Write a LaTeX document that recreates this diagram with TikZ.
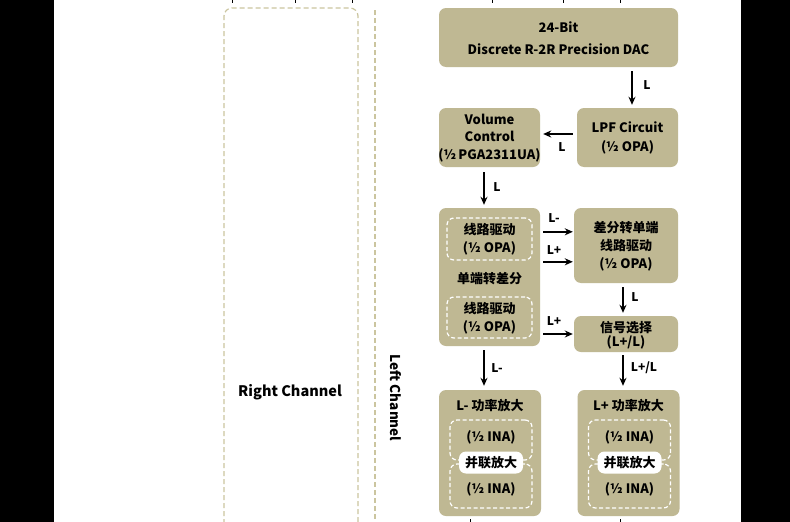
\documentclass[tikz,border=0pt]{standalone}
\usepackage{fontspec}
\setmainfont{Noto Sans CJK SC}
\usetikzlibrary{arrows.meta}
\definecolor{boxc}{HTML}{BFB893}
\definecolor{dashc}{HTML}{CBC59F}
\tikzset{
  box/.style={fill=boxc, rounded corners=7pt, inner sep=0pt, align=center},
  txt/.style={inner sep=0pt, align=center, font=\fontsize{13}{18}\selectfont\bfseries},
  lbl/.style={inner sep=0pt, font=\fontsize{12}{14}\selectfont\bfseries},
  wdash/.style={draw=white, line width=1.2pt, dash pattern=on 4pt off 2.5pt, rounded corners=7pt, inner sep=0pt},
  pill/.style={fill=white, rounded corners=7pt, inner sep=0pt, minimum width=64pt, minimum height=22pt, font=\fontsize{13}{14}\selectfont\bfseries},
  arr/.style={-{Stealth[length=8pt,width=7pt]}, line width=1.4pt, black},
  chdash/.style={draw=dashc, line width=1.2pt, dash pattern=on 5pt off 3pt},
  tick/.style={line width=1pt, black}
}
\begin{document}
\begin{tikzpicture}[x=1pt,y=-1pt]
\useasboundingbox (0,0) rectangle (790,522);
\fill[white] (0,0) rectangle (790,522);
\fill[black] (0,0) rectangle (54,522);
\fill[black] (741,0) rectangle (790,522);

% channel frames
\draw[chdash, rounded corners=8pt] (224,540) -- (224,8) -- (358,8) -- (358,540);
\coordinate (lct) at (375,10);
\coordinate (lcb) at (375,522);
\draw[chdash] (lct) -- (lcb);
\node[txt, font=\fontsize{14.5}{16}\selectfont\bfseries] (rch) at (290,392) {Right Channel};
\node[txt, font=\fontsize{13.5}{16}\selectfont\bfseries, rotate=-90] (lch) at (396,398) {Left Channel};

% top / bottom ticks (cut-off connectors)
\foreach \x [count=\i] in {232,295,352,492,563,620}{
  \coordinate (t\i a) at (\x,0);
  \coordinate (t\i b) at (\x,3);
  \draw[tick] (t\i a) -- (t\i b);
}
\foreach \x [count=\i] in {470,620}{
  \coordinate (b\i a) at (\x,519);
  \coordinate (b\i b) at (\x,522);
  \draw[tick] (b\i a) -- (b\i b);
}

% boxes
\node[box, minimum width=239pt, minimum height=59pt] (dac) at (558.5,37.5) {};
\node[txt, font=\fontsize{13}{21.5}\selectfont\bfseries] (dact) at (558.5,38) {24-Bit\\Discrete R-2R Precision DAC};

\node[box, minimum width=101pt, minimum height=59pt] (lpf) at (627.5,137.5) {};
\node[txt, font=\fontsize{13}{19}\selectfont\bfseries] (lpft) at (627.5,137.5) {LPF Circuit\\(½ OPA)};

\node[box, minimum width=101pt, minimum height=59pt] (vol) at (489.5,137.5) {};
\node[txt, font=\fontsize{13}{17.5}\selectfont\bfseries] (volt) at (489.5,138) {Volume\\Control\\(½\,PGA2311UA)};

\node[box, minimum width=101pt, minimum height=138pt] (sd) at (489.5,277) {};
\node[wdash, draw, minimum width=85pt, minimum height=42pt] (sd1) at (489.5,239) {};
\node[txt] (sd1t) at (489.5,239) {线路驱动\\(½ OPA)};
\node[txt] (sdt) at (489.5,279) {单端转差分};
\node[wdash, draw, minimum width=85pt, minimum height=41pt] (sd2) at (489.5,317.5) {};
\node[txt] (sd2t) at (489.5,318) {线路驱动\\(½ OPA)};

\node[box, minimum width=104pt, minimum height=75pt] (ds) at (626,245.5) {};
\node[txt] (dst) at (626,246) {差分转单端\\线路驱动\\(½ OPA)};

\node[box, minimum width=104pt, minimum height=36pt] (sel) at (626,334) {};
\node[txt, font=\fontsize{13}{14}\selectfont\bfseries] (selt) at (626,335) {信号选择\\(L+/L)};

% power amplifiers
\foreach \n/\cx/\t in {lpa/490/{L- 功率放大}, rpa/628.5/{L+ 功率放大}}{
  \node[box, minimum width=102pt, minimum height=126pt] (\n) at (\cx,453) {};
  \node[txt] (\n t) at (\cx,406) {\t};
  \node[wdash, draw, minimum width=82pt, minimum height=40pt] (\n u) at (\cx+1,440) {};
  \node[wdash, draw, minimum width=82pt, minimum height=44pt] (\n d) at (\cx+1,486) {};
  \node[txt] (\n ut) at (\cx+1,437) {(½ INA)};
  \node[txt] (\n dt) at (\cx+1,489) {(½ INA)};
  \node[pill] (\n p) at (\cx+1,462.5) {并联放大};
}

% connectors
\draw[arr, shorten <=4pt, shorten >=3pt] ([xshift=4.5pt]dac.south -| lpf) -- ([xshift=4.5pt]lpf.north);
\node[lbl] (l1) at (647,85) {L};
\draw[arr, shorten <=4pt, shorten >=3pt] ([yshift=3.5pt]lpf.west) -- ([yshift=3.5pt]vol.east);
\node[lbl] (l2) at (562,147) {L};
\draw[arr, shorten <=5pt, shorten >=3pt] ([xshift=-5.5pt]vol.south) -- ([xshift=-5.5pt]sd.north);
\node[lbl] (l3) at (497,187) {L};
\draw[arr, shorten <=3pt, shorten >=1pt] ([yshift=-24pt]sd.north east) -- ([yshift=-24pt]ds.north west);
\node[lbl] (l4) at (554,218) {L-};
\draw[arr, shorten <=3pt, shorten >=1pt] ([yshift=-54pt]sd.north east) -- ([yshift=-54pt]ds.north west);
\node[lbl] (l5) at (554,250) {L+};
\draw[arr, shorten <=3pt, shorten >=1pt] (sd.east |- sel.west) -- (sel.west);
\node[lbl] (l6) at (554,321) {L+};
\draw[arr, shorten <=4pt, shorten >=3pt] ([xshift=-3pt]ds.south) -- ([xshift=-3pt]sel.north);
\node[lbl] (l7) at (635,297) {L};
\draw[arr, shorten <=4pt, shorten >=4pt] ([xshift=-5.5pt]sd.south) -- ([xshift=-6pt]lpa.north);
\node[lbl] (l8) at (497,368) {L-};
\draw[arr, shorten <=3pt, shorten >=4pt] ([xshift=-3pt]sel.south) -- ([xshift=-5.5pt]rpa.north);
\node[lbl] (l9) at (644,368) {L+/L};
\end{tikzpicture}
\end{document}
